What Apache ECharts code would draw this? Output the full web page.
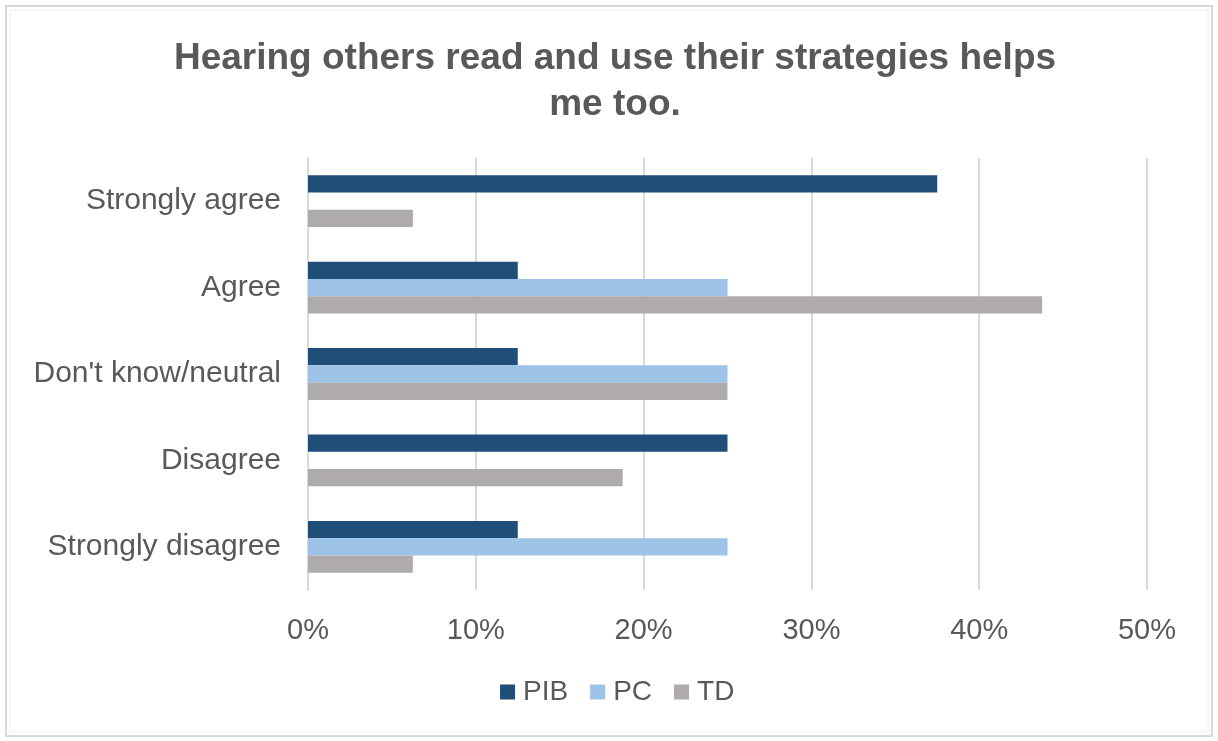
<!DOCTYPE html>
<html>
<head>
<meta charset="utf-8">
<script src="https://cdn.jsdelivr.net/npm/echarts@6/dist/echarts.min.js"></script>
<style>
  html, body { margin: 0; padding: 0; background: #ffffff; }
  #chart { width: 1218px; height: 741px; }
</style>
</head>
<body>
<div id="chart"></div>
<script>
// Survey responses, share of each group (%)
const categories = ['Strongly agree', 'Agree', "Don't know/neutral", 'Disagree', 'Strongly disagree'];
const pib = [37.5, 12.5, 12.5, 25, 12.5];
const pc = [0, 25, 25, 0, 25];
const td = [6.25, 43.75, 25, 18.75, 6.25];
const xTicks = [0, 10, 20, 30, 40, 50];

const FONT = '"Liberation Sans", Arial, sans-serif';
const TEXT = '#595959';

const chart = echarts.init(document.getElementById('chart'), null, { renderer: 'canvas' });

chart.setOption({
  animation: false,
  backgroundColor: '#ffffff',
  title: {
    text: 'Hearing others read and use their strategies helps\nme too.',
    left: 610,
    textAlign: 'center',
    top: 31,
    textStyle: {
      fontFamily: FONT,
      fontSize: 37,
      fontWeight: 'bold',
      color: TEXT,
      lineHeight: 46
    }
  },
  graphic: [
    { type: 'rect', shape: { x: 6, y: 6, width: 1206, height: 730 },
      style: { fill: 'none', stroke: '#d9d9d9', lineWidth: 2 }, silent: true },
    { type: 'rect', shape: { x: 10, y: 10, width: 1198, height: 722 },
      style: { fill: 'none', stroke: '#eeeeee', lineWidth: 1 }, silent: true }
  ],
  legend: {
    top: 673,
    left: 495,
    itemWidth: 15,
    itemHeight: 15,
    itemGap: 22,
    icon: 'rect',
    textStyle: { fontFamily: FONT, fontSize: 28, color: TEXT, padding: [0, 0, 0, 3] },
    data: ['PIB', 'PC', 'TD']
  },
  grid: { left: 308, right: 71, top: 158, bottom: 151, containLabel: false },
  xAxis: {
    type: 'value',
    min: 0,
    max: 50,
    interval: 10,
    axisLine: { show: false },
    axisTick: { show: false },
    splitLine: { show: true, lineStyle: { color: '#d9d9d9', width: 2 } },
    axisLabel: {
      fontFamily: FONT, fontSize: 29, color: TEXT, margin: 26,
      formatter: function (v) { return xTicks.indexOf(v) >= 0 ? v + '%' : ''; }
    }
  },
  yAxis: {
    type: 'category',
    inverse: true,
    data: categories,
    axisLine: { show: true, lineStyle: { color: '#d9d9d9', width: 2 } },
    axisTick: { show: false },
    axisLabel: { fontFamily: FONT, fontSize: 30, color: TEXT, margin: 27 }
  },
  series: [
    { name: 'PIB', type: 'bar', data: pib, barGap: '0%', barCategoryGap: '40%',
      itemStyle: { color: '#1f4e79' } },
    { name: 'PC', type: 'bar', data: pc, barGap: '0%', barCategoryGap: '40%',
      itemStyle: { color: '#9dc3e6' } },
    { name: 'TD', type: 'bar', data: td, barGap: '0%', barCategoryGap: '40%',
      itemStyle: { color: '#afabab' } }
  ]
});
</script>
</body>
</html>
